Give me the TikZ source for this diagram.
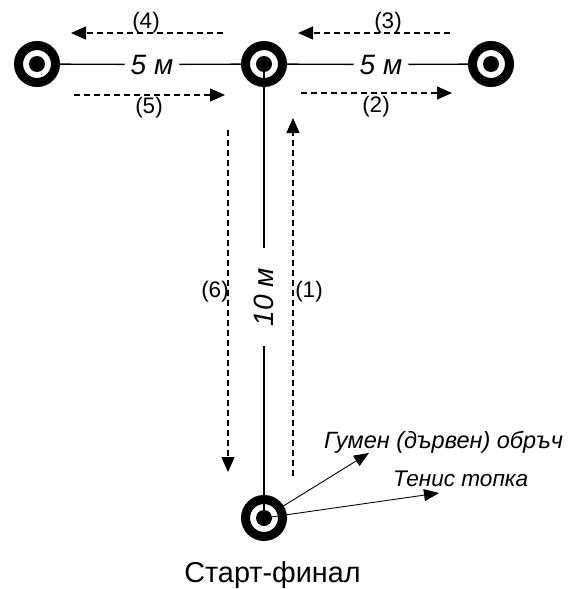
\documentclass[tikz,border=0pt]{standalone}
\usepackage{fontspec}
\setmainfont{Liberation Sans}
\usetikzlibrary{arrows.meta}
\begin{document}
\begin{tikzpicture}[x=1pt,y=-1pt,
  target/.style={circle, draw=black, line width=9pt, fill=white, minimum size=37pt, inner sep=0pt,
    path picture={\fill[black] (path picture bounding box.center) circle (8pt);}},
  sline/.style={line width=1.3pt},
  darr/.style={line width=1.2pt, dash pattern=on 6pt off 4pt, -{Triangle[length=15pt,width=13pt]}},
  oarr/.style={line width=0.9pt, -{Triangle[length=15pt,width=12pt]}},
  dist/.style={font=\itshape\fontsize{28}{30}\selectfont, inner xsep=6pt, inner ysep=2pt, anchor=base},
  num/.style={font=\fontsize{22.5}{24}\selectfont, inner sep=0pt, anchor=base},
  objlab/.style={font=\itshape\fontsize{23.5}{25}\selectfont, inner sep=0pt, anchor=base west},
  title/.style={font=\fontsize{28.8}{30}\selectfont, inner sep=0pt, anchor=base}
]
\useasboundingbox (0,0) rectangle (569,589);
% targets
\node[target] (L) at (37,64) {};
\node[target] (M) at (264,64) {};
\node[target] (R) at (491,64) {};
\node[target] (B) at (264,518) {};
% distance labels
\node[dist] (d1) at (152,74) {5 м};
\node[dist] (d2) at (381,74) {5 м};
\node[font=\itshape\fontsize{28}{30}\selectfont, inner xsep=20pt, inner ysep=2pt, rotate=90] (d3) at (264,297) {10 м};
% solid lines
\draw[sline] (L) -- (d1) -- (M) -- (d2) -- (R);
\draw[sline] (M.center) -- (d3) -- (B.center);
% dashed route arrows
\coordinate (a4s) at (223,33);  \coordinate (a4e) at (71,33);
\coordinate (a3s) at (450,33);  \coordinate (a3e) at (298,33);
\coordinate (a5s) at (74,95);   \coordinate (a5e) at (225,95);
\coordinate (a2s) at (301,93);  \coordinate (a2e) at (452,93);
\coordinate (a1s) at (293,476); \coordinate (a1e) at (293,118);
\coordinate (a6s) at (228,130); \coordinate (a6e) at (228,472);
\draw[darr] (a4s) -- (a4e);
\draw[darr] (a3s) -- (a3e);
\draw[darr] (a5s) -- (a5e);
\draw[darr] (a2s) -- (a2e);
\draw[darr] (a1s) -- (a1e);
\draw[darr] (a6s) -- (a6e);
\node[num] (n4) at (146,28.5) {(4)};
\node[num] (n3) at (388,28.5) {(3)};
\node[num] (n5) at (149,113.5) {(5)};
\node[num] (n2) at (376,112) {(2)};
\node[num] (n1) at (309,297) {(1)};
\node[num] (n6) at (215,297) {(6)};
% equipment
\coordinate (t1) at (369,453);
\coordinate (t2) at (439,493);
\draw[oarr] (B) -- (t1);
\draw[oarr] (B.center) -- (t2);
\node[objlab] (g) at (324,448) {Гумен (дървен) обръч};
\node[objlab, font=\itshape\fontsize{22.6}{25}\selectfont] (t) at (393,486) {Тенис топка};
\node[title] (s) at (272.5,582) {Старт-финал};
\end{tikzpicture}
\end{document}
